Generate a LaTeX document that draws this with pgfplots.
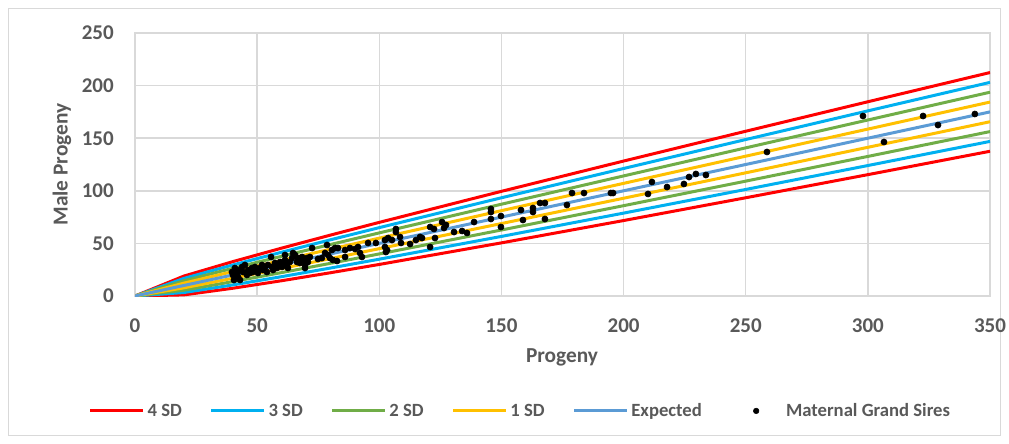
\documentclass[border=0pt]{standalone}
\usepackage{fontspec}
\setmainfont{Carlito}
\usepackage{pgfplots}
\pgfplotsset{compat=1.18}
\definecolor{gridc}{RGB}{217,217,217}
\definecolor{txt}{RGB}{89,89,89}
\definecolor{sdfour}{RGB}{255,0,0}
\definecolor{sdthree}{RGB}{0,176,240}
\definecolor{sdtwo}{RGB}{112,173,71}
\definecolor{sdone}{RGB}{255,192,0}
\definecolor{expc}{RGB}{91,155,213}
\pgfplotsset{
  lineleg/.style={legend image code/.code={\draw[##1] (0pt,0pt) -- (39.75pt,0pt); \path (41.75pt,0pt);}},
  sdline/.style={line width=2.25pt, no markers, sharp plot, lineleg},
}
\begin{document}
\begin{tikzpicture}
\path (0pt,0pt) rectangle (756.75pt,332.25pt);
\draw[gridc, line width=0.75pt] (6.4pt,5.3pt) rectangle (750.4pt,325.5pt);
\begin{axis}[
  at={(101.25pt,110.25pt)}, anchor=south west,
  scale only axis, width=641.25pt, height=197.25pt,
  xmin=0, xmax=350, ymin=0, ymax=250,
  xtick={0,50,...,350}, ytick={0,50,...,250},
  grid=major, grid style={gridc, line width=1.1pt},
  axis line style={gridc, line width=1.1pt},
  major tick length=0pt, tick style={draw=none},
  ticklabel style={font=\fontsize{15.75}{18}\selectfont\bfseries, text=txt},
  xticklabel style={anchor=north, inner sep=0pt, yshift=-17pt},
  yticklabel style={anchor=east, inner sep=0pt, xshift=-15.75pt},
  /pgf/number format/assume math mode=true,
  xlabel={Progeny}, ylabel={Male Progeny},
  every axis x label/.style={at={(axis description cs:0.4994,-0.232)}, anchor=center,
    font=\fontsize{16}{19}\selectfont\bfseries, text=txt},
  every axis y label/.style={at={(axis description cs:-0.0854,0.5)}, anchor=center, rotate=90,
    font=\fontsize{16}{19}\selectfont\bfseries, text=txt},
  legend columns=6,
  legend style={at={(axis description cs:-0.0542,-0.437)}, anchor=west, draw=none, fill=none,
    inner sep=0pt, column sep=0pt, font=\fontsize{14}{16}\selectfont\bfseries, text=txt,
    nodes={inner sep=0pt}},
  legend cell align=left,
]
% 4 SD
\addplot[sdline, sdfour] coordinates {(0,0) (20,18.94) (40,32.65) (60,45.49) (80,57.89) (100,70) (150,99.49) (200,128.28) (250,156.62) (300,184.64) (350,212.42)};
\addlegendentry{4 SD\hspace*{21pt}}
\addplot[sdline, sdfour, forget plot] coordinates {(0,0) (20,1.06) (40,7.35) (60,14.51) (80,22.11) (100,30) (150,50.51) (200,71.72) (250,93.38) (300,115.36) (350,137.58)};
% 3 SD
\addplot[sdline, sdthree] coordinates {(0,0) (20,16.71) (40,29.49) (60,41.62) (80,53.42) (100,65) (150,93.37) (200,121.21) (250,148.72) (300,175.98) (350,203.06)};
\addlegendentry{3 SD\hspace*{21pt}}
\addplot[sdline, sdthree, forget plot] coordinates {(0,0) (20,3.29) (40,10.51) (60,18.38) (80,26.58) (100,35) (150,56.63) (200,78.79) (250,101.28) (300,124.02) (350,146.94)};
% 2 SD
\addplot[sdline, sdtwo] coordinates {(0,0) (20,14.47) (40,26.32) (60,37.75) (80,48.94) (100,60) (150,87.25) (200,114.14) (250,140.81) (300,167.32) (350,193.71)};
\addlegendentry{2 SD\hspace*{21pt}}
\addplot[sdline, sdtwo, forget plot] coordinates {(0,0) (20,5.53) (40,13.68) (60,22.25) (80,31.06) (100,40) (150,62.75) (200,85.86) (250,109.19) (300,132.68) (350,156.29)};
% 1 SD
\addplot[sdline, sdone] coordinates {(0,0) (20,12.24) (40,23.16) (60,33.87) (80,44.47) (100,55) (150,81.12) (200,107.07) (250,132.91) (300,158.66) (350,184.35)};
\addlegendentry{1 SD\hspace*{21pt}}
\addplot[sdline, sdone, forget plot] coordinates {(0,0) (20,7.76) (40,16.84) (60,26.13) (80,35.53) (100,45) (150,68.88) (200,92.93) (250,117.09) (300,141.34) (350,165.65)};
% Expected
\addplot[sdline, expc] coordinates {(0,0) (20,10) (40,20) (60,30) (80,40) (100,50) (150,75) (200,100) (250,125) (300,150) (350,175)};
\addlegendentry{Expected\hspace*{21pt}}
% Maternal Grand Sires
\addplot[only marks, mark=*, mark size=2.3pt, black,
  legend image code/.code={\fill[black] (19.5pt,0pt) circle (2.1pt); \path (0pt,0pt) (41.75pt,0pt);}]
coordinates {
(39.7,22.8) (40.1,20.0) (40.9,26.6) (41.8,21.9) (42.2,18.1) (43.0,24.7) (43.8,27.6) (44.2,22.8)
(45.0,29.5) (45.8,20.0) (46.3,24.7) (47.1,21.9) (47.9,26.6) (48.3,22.8) (49.1,27.6) (49.9,24.7)
(50.3,21.9) (51.2,26.6) (52.0,29.5) (52.4,24.7) (53.2,27.6) (54.0,22.8) (54.4,29.5) (55.7,37.1)
(56.1,27.6) (56.5,24.7) (57.3,31.4) (58.1,26.6) (58.5,29.5) (59.4,32.3) (60.2,27.6) (60.6,31.4)
(61.4,34.2) (62.2,29.5) (62.6,26.6) (63.4,32.3) (64.3,36.1) (64.7,40.9) (65.5,39.0) (66.3,32.3)
(66.7,36.1) (67.5,31.4) (68.4,37.1) (68.8,34.2) (69.6,29.5) (70.4,36.1) (70.8,32.3) (40.5,15.2)
(43.0,15.2) (69.6,26.6) (61.4,39.0) (70.4,34.2)
(71.6,37.1) (72.5,45.6) (74.9,35.2) (76.5,36.1) (78.6,48.5) (77.8,40.9) (79.0,39.0) (79.8,36.1)
(80.6,43.7) (81.0,34.2) (82.7,33.3) (81.9,45.6) (83.1,45.6) (86.0,43.7) (86.0,37.1) (88.0,45.6)
(90.1,44.7) (91.3,46.6) (92.1,40.9) (92.9,37.1) (95.4,50.4) (98.6,50.4) (102.3,53.2) (102.3,46.6)
(103.2,43.7)
(103.6,55.1) (105.2,53.2) (102.7,41.8) (106.8,63.7) (106.8,60.8) (108.5,56.1) (108.9,50.4)
(112.6,49.4) (115.0,53.2) (116.7,56.1) (117.5,55.1) (120.8,65.6) (122.4,63.7) (122.8,55.1)
(120.8,46.6) (125.7,70.3) (127.3,67.5) (126.5,64.6) (130.6,60.8) (133.9,61.8) (135.9,59.9)
(138.8,70.3)
(145.7,82.7) (145.7,79.8) (145.7,73.2) (149.8,76.0) (149.8,65.6) (158.0,81.7) (158.8,72.2)
(162.9,83.7) (162.9,79.8) (165.8,88.4) (167.8,88.4) (167.8,73.2) (176.8,86.5) (178.9,97.9)
(183.8,97.9) (194.8,97.9) (195.7,97.9) (210.0,97.0) (211.6,108.4) (217.8,103.6) (224.7,106.5)
(226.8,113.1) (229.6,116.0) (233.7,115.0) (258.7,136.9) (298.0,171.1) (306.6,146.4)
(322.6,171.1) (328.7,162.5) (343.8,173.0)
};
\addlegendentry{Maternal Grand Sires}
\end{axis}
\end{tikzpicture}
\end{document}
